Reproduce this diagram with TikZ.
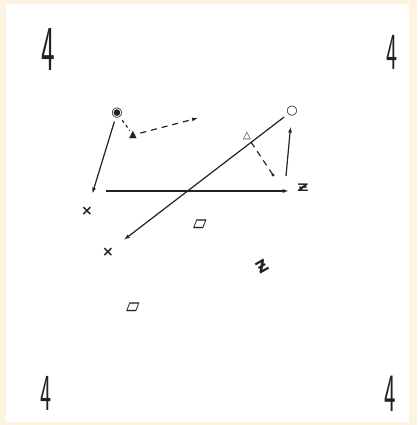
\documentclass[tikz,border=0pt]{standalone}
\usepackage{fontspec}
\usepackage{graphicx}
\usetikzlibrary{arrows.meta}
\newfontfamily\glyphs{DejaVu Sans}
\definecolor{paper}{HTML}{FEF3E0}
\definecolor{ink}{HTML}{222222}

\begin{document}
\begin{tikzpicture}[x=1pt,y=-1pt,line width=1.2pt,color=ink,
  arrowline/.style={-{Latex[length=6pt,width=4pt]}},
  dashline/.style={dash pattern=on 6pt off 5pt},
  glyph/.style={inner sep=0pt,font=\glyphs\fontsize{#1}{#1}\selectfont},
  glyph/.default=11,
  boldglyph/.style={inner sep=0pt,font=\glyphs\bfseries\fontsize{#1}{#1}\selectfont},
  digit/.style={inner sep=0pt,font=\sffamily\fontsize{#1}{#1}\selectfont}]
% paper and border
\fill[paper] (0,0) rectangle (417,425);
\fill[white] (6,4) rectangle (409,422);

% corner digits
\node[digit=64] (dtl) at (48,50) {\scalebox{.45}[1]{4}};
\node[digit=52] (dtr) at (392,52) {\scalebox{.45}[1]{4}};
\node[digit=52] (dbl) at (46,393) {\scalebox{.45}[1]{4}};
\node[digit=54] (dbr) at (390,394) {\scalebox{.45}[1]{4}};

% markers
\node[boldglyph=13] (cd) at (117,113) {◉};
\node[boldglyph=13] (oc) at (292,111) {○};
\node[boldglyph=10] (t1) at (133,135) {▲};
\node[boldglyph=10] (t2) at (247,136) {△};
\node[boldglyph=14] (xa) at (87,211) {×};
\node[boldglyph=14] (xb) at (108,252) {×};
\node[boldglyph=13] (zb) at (303,188) {\scalebox{1.2}[.8]{Ƶ}};
\node[boldglyph=16,rotate=30] (zc) at (262,267) {Ƶ};
\node[boldglyph=16] (pa) at (200,225) {\scalebox{1.1}[1.5]{▱}};
\node[boldglyph=16] (pb) at (133,308) {\scalebox{1.1}[1.5]{▱}};

\coordinate (h0) at (106,191);
\coordinate (u0) at (286,176);
\coordinate (d0) at (273,175);
\coordinate (e0) at (198,118);

% connectors
\draw[arrowline,shorten <=3pt,shorten >=13pt] (cd) -- (xa);
\draw[arrowline,shorten >=8pt] (h0) -- (h0 -| zb.west);
\draw[arrowline,shorten <=2pt,shorten >=12pt] (oc) -- (xb);
\draw[arrowline,shorten >=10pt] (u0) -- (oc);
\draw[dashline,shorten <=2pt] (t2) -- (d0);
\fill (d0) circle (1.6pt);
\draw[dash pattern=on 3pt off 3pt,shorten <=2pt] (cd) -- (t1);
\draw[dashline,arrowline,shorten <=3pt] (t1) -- (e0);
\end{tikzpicture}
\end{document}
